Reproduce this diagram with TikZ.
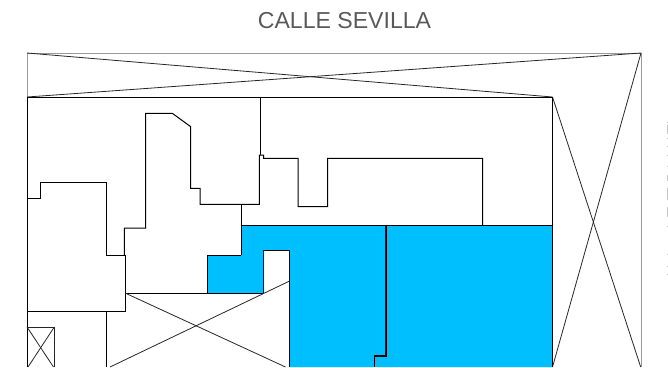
\documentclass[tikz,border=0pt]{standalone}
\usepackage{fontspec}
\setmainfont{Liberation Sans}
\tikzset{
 plan/.style={black,line width=1pt},
 thin plan/.style={black!85,line width=0.8pt},
 border/.style={gray!80,line width=0.9pt},
 title/.style={text=black!65,font=\fontsize{23.1}{26}\selectfont,inner sep=0pt},
}
\definecolor{patio}{HTML}{00BFFF}
\begin{document}
\begin{tikzpicture}[x=1pt,y=-1pt]
 \useasboundingbox (0,0) rectangle (668,367);
 \node[title] (calle) at (344.5,21) {CALLE SEVILLA};
 % blue area
 \fill[patio](241,225.3)--(552.5,225.3)--(552.5,367)--(289,367)--(289,250.3)--(263.7,250.3)--(263.7,293.3)--(207.5,293.3)--(207.5,255)--(241,255)--cycle;
 % outer frame
 \draw[border](27,97)--(27,53)--(641,53)--(641,367);
 \draw[thin plan](27,53)--(552.5,97);
 \draw[thin plan](641,53)--(27,97);
 \draw[thin plan](552.5,97)--(640.7,367);
 \draw[thin plan](641,53)--(552.5,367);
 % plot outline
 \draw[plan](27,367)--(27,97)--(552.5,97)--(552.5,367);
 % left buildings
 \draw[plan](27,198.7)--(40,198.7)--(40,182.7)--(106,182.7)--(106,255)--(125.7,255)--(125.7,311.7)--(27,311.7);
 \draw[plan](106.3,311.7)--(106.3,367);
 \draw[plan](124.3,255)--(124.3,228)--(145.7,228)--(145.7,113.3)--(172.3,113.3)--(190.7,126.7)--(190.7,188.3)--(200,188.3)--(200,204.3)--(259.3,204.3)--(259.3,155)--(263.7,155)--(263.7,158.3)--(298,158.3)--(298,206.7)--(327.7,206.7)--(327.7,158.3)--(482.7,158.3)--(482.7,225.3);
 \draw[plan](260.7,97)--(260.7,155);
 \draw[plan](241,204.3)--(241,225.3);
 % blue area edge
 \draw[plan](241,255)--(241,225.3)--(552.5,225.3);
 \draw[plan](241,255)--(207.5,255)--(207.5,293.3);
 \draw[plan](125.7,293.3)--(263.7,293.3)--(263.7,250.3)--(289,250.3)--(289,367);
 \draw[plan,line width=1.2pt](386,225.3)--(386,356)--(374.7,356)--(374.7,367);
 % crossed voids
 \draw[thin plan](125.7,293.3)--(285.5,367);
 \draw[thin plan](289,281.3)--(110,367);
 \draw[thin plan](27,327)--(54.3,327)--(54.3,367);
 \draw[thin plan](27,327)--(53.5,367);
 \draw[thin plan](54.3,327)--(28,367);
 % cut off lettering at the edge
 \foreach \ya/\yb in {121.5/123,125/134,137.5/139,145.5/147,154.5/156,165.5/167,175/181,188/200,207/217,225.5/227,253.5/255,265.5/267,273.5/275}
  \draw[gray!45,line width=1pt](667.5,\ya)--(667.5,\yb);
\end{tikzpicture}
\end{document}
